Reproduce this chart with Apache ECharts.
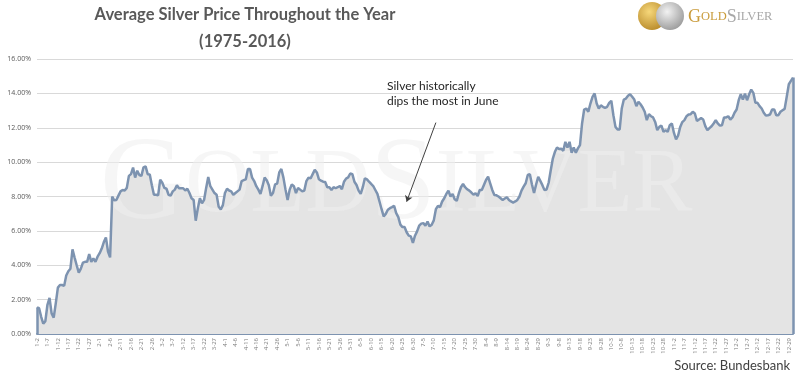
<!DOCTYPE html>
<html>
<head>
<meta charset="utf-8">
<script src="https://cdn.jsdelivr.net/npm/echarts@6/dist/echarts.min.js"></script>
<style>
html,body{margin:0;padding:0;background:#fff;}
#c{width:808px;height:374px;}
</style>
</head>
<body>
<div id="c"></div>
<script>
// ---- data ----
var monthLengths = [31, 29, 31, 30, 31, 30, 31, 31, 30, 31, 30, 31];
var skippedDates = ['1-1', '12-25', '12-26'];
var yTicks = [0, 2, 4, 6, 8, 10, 12, 14, 16];
var annotationLines = ['Silver historically', 'dips the most in June'];
var sourceText = 'Source: Bundesbank';
var titleLines = ['Average Silver Price Throughout the Year', '(1975-2016)'];

// average % change from start of year (percent)
var silverAvg = [
 1.55,1.5,1.0,0.6,0.75,1.7,2.1,1.2,0.95,1.8,
 2.7,2.85,2.85,2.8,3.4,3.65,3.8,4.93,4.45,4.0,
 3.57,3.8,4.15,4.2,4.2,4.65,4.2,4.4,4.2,4.5,
 4.7,4.97,5.35,5.62,4.8,4.46,8.0,7.78,7.8,8.05,
 8.3,8.38,8.35,8.5,9.2,9.3,9.68,9.1,9.5,9.25,
 9.2,9.7,9.75,9.3,9.28,8.66,8.1,8.1,8.07,8.98,
 8.8,8.5,8.45,8.1,8.05,8.3,8.4,8.65,8.48,8.48,
 8.48,8.35,8.45,8.2,7.9,7.8,6.59,7.3,7.9,7.6,
 7.8,8.5,9.14,8.6,8.4,8.2,8.1,7.4,7.25,7.5,
 8.2,8.45,8.35,8.3,8.1,8.2,8.3,8.4,8.9,8.95,
 9.0,9.6,9.6,9.1,8.9,8.6,8.4,8.15,8.6,9.1,
 8.95,8.65,8.05,8.2,8.7,8.75,9.4,9.6,9.1,8.4,
 7.8,8.4,8.7,8.6,8.2,8.5,8.4,8.3,8.35,8.9,
 9.1,9.05,9.3,9.55,9.4,9.0,8.92,8.86,8.84,8.54,
 8.54,8.38,8.54,8.48,8.54,8.61,8.42,8.86,9.04,9.11,
 9.34,9.3,8.86,8.67,8.34,8.15,8.54,9.06,9.0,8.86,
 8.73,8.61,8.38,8.15,7.71,7.26,6.84,6.99,7.23,7.32,
 7.38,7.46,7.03,6.8,6.36,6.22,6.22,5.92,5.72,5.68,
 5.3,5.72,5.97,6.3,6.42,6.45,6.3,6.55,6.26,6.36,
 6.61,7.26,7.46,7.38,7.71,7.9,8.15,8.34,8.0,8.15,
 7.84,7.75,8.19,8.54,8.73,8.54,8.42,8.34,8.23,8.11,
 8.19,8.03,8.38,8.38,8.67,8.96,9.15,8.77,8.38,8.09,
 8.07,8.0,7.9,7.8,7.88,7.96,7.8,7.71,7.65,7.71,
 7.8,8.0,8.34,8.57,8.77,9.25,9.3,8.7,8.2,8.7,
 9.15,8.91,8.66,8.37,8.41,8.8,9.53,10.21,10.6,10.85,
 10.76,10.78,10.66,11.18,10.85,11.18,10.54,10.85,10.54,10.8,
 10.99,12.25,13.06,13.12,12.93,13.41,13.8,13.99,13.41,13.12,
 13.3,13.22,13.16,13.22,13.45,13.57,12.73,12.05,11.9,11.9,
 13.12,13.64,13.7,13.86,13.95,13.8,13.64,13.26,13.51,13.37,
 13.18,12.93,12.44,12.79,12.67,12.6,12.34,11.86,12.05,12.13,
 11.76,11.86,11.76,12.15,12.25,11.7,11.32,11.55,12.05,12.33,
 12.44,12.67,12.77,12.79,12.93,12.83,12.4,12.48,12.56,12.48,
 12.09,11.86,11.98,12.09,12.25,12.44,12.25,12.13,12.15,12.6,
 12.6,12.67,12.48,12.6,12.87,13.06,13.6,13.95,13.64,13.99,
 13.6,13.95,14.22,14.03,13.45,13.45,13.26,13.12,12.87,12.71,
 12.73,12.77,13.06,13.06,12.73,12.73,12.93,13.02,13.1,13.8,
 14.53,14.73,14.92
];

// categories: month-day labels of a leap year, minus skipped dates
var dayLabels = [];
for (var m = 0; m < monthLengths.length; m++) {
  for (var d = 1; d <= monthLengths[m]; d++) {
    var s = (m + 1) + '-' + d;
    if (skippedDates.indexOf(s) < 0) dayLabels.push(s);
  }
}

var lineColor = '#7d93b0';
var lastIdx = silverAvg.length - 1;
var arrowFrom = [dayLabels[191], 12.3];
var arrowTo = [dayLabels[177], 7.7];

var chart = echarts.init(document.getElementById('c'), null, {renderer: 'canvas'});
chart.setOption({
  animation: false,
  backgroundColor: '#ffffff',
  title: {
    text: titleLines.join('\n'),
    left: 245,
    top: 1,
    padding: 0,
    textAlign: 'center',
    textStyle: {
      fontFamily: 'Lato',
      fontWeight: 'bold',
      fontSize: 16.5,
      color: '#595959',
      lineHeight: 27
    }
  },
  grid: {left: 37, right: 15, top: 59, bottom: 40, containLabel: false},
  xAxis: {
    type: 'category',
    data: dayLabels,
    boundaryGap: false,
    axisLine: {show: true, lineStyle: {color: lineColor, width: 2}},
    axisTick: {show: false},
    axisLabel: {
      interval: 4,
      rotate: 90,
      fontSize: 6,
      color: '#7a7a7a',
      fontFamily: 'Open Sans',
      margin: 4
    },
    splitLine: {show: false}
  },
  yAxis: {
    type: 'value',
    min: yTicks[0],
    max: yTicks[yTicks.length - 1],
    interval: yTicks[1] - yTicks[0],
    axisLine: {show: false},
    axisTick: {show: false},
    axisLabel: {
      fontSize: 7,
      color: '#595959',
      fontFamily: 'Open Sans',
      margin: 6,
      formatter: function (v) { return v.toFixed(2) + '%'; }
    },
    splitLine: {show: true, lineStyle: {color: '#d9d9d9', width: 1}}
  },
  graphic: [
    {
      type: 'text', z: 3, left: 100, top: 128, silent: true,
      style: {
        text: '{b|G}{s|OLD}{b|S}{s|ILVER}',
        rich: {
          b: {fontFamily: 'Liberation Serif', fontSize: 118, fill: 'rgba(238,238,238,0.55)'},
          s: {fontFamily: 'Liberation Serif', fontSize: 90, fill: 'rgba(238,238,238,0.55)'}
        }
      }
    },
    {
      type: 'circle', z: 10, shape: {cx: 652, cy: 16, r: 14},
      style: {fill: new echarts.graphic.RadialGradient(0.4, 0.35, 0.7, [
        {offset: 0, color: '#f6d77a'}, {offset: 1, color: '#b88a2a'}])}
    },
    {
      type: 'circle', z: 11, shape: {cx: 670, cy: 16, r: 14},
      style: {fill: new echarts.graphic.RadialGradient(0.4, 0.35, 0.7, [
        {offset: 0, color: '#f2f2f2'}, {offset: 1, color: '#9a9a9a'}])}
    },
    {
      type: 'text', z: 10, left: 688, top: 8,
      style: {
        text: '{gb|G}{gs|OLD}{sb|S}{ss|ILVER}',
        rich: {
          gb: {fontFamily: 'Liberation Serif', fontSize: 18, fill: '#c99b3b'},
          gs: {fontFamily: 'Liberation Serif', fontSize: 12.5, fill: '#c99b3b'},
          sb: {fontFamily: 'Liberation Serif', fontSize: 18, fill: '#a8a8a8'},
          ss: {fontFamily: 'Liberation Serif', fontSize: 12.5, fill: '#a8a8a8'}
        }
      }
    },
    {
      type: 'text', z: 10, left: 387, top: 79,
      style: {
        text: annotationLines.join('\n'),
        fontFamily: 'Lato', fontSize: 12, lineHeight: 15, fill: '#262626'
      }
    },
    {
      type: 'text', z: 10, right: 18, top: 359,
      style: {
        text: sourceText,
        fontFamily: 'Lato', fontSize: 13, fill: '#404040'
      }
    }
  ],
  series: [
    {
      type: 'line',
      data: silverAvg,
      z: 1,
      symbol: 'none',
      silent: true,
      lineStyle: {width: 0, opacity: 0},
      areaStyle: {color: '#e4e4e4', opacity: 1}
    },
    {
      type: 'line',
      data: silverAvg,
      z: 5,
      symbol: 'none',
      lineStyle: {color: lineColor, width: 2.5},
      markLine: {
        silent: true,
        symbol: 'none',
        label: {show: false},
        lineStyle: {type: 'solid'},
        data: [
          [{coord: [dayLabels[0], 0], lineStyle: {color: lineColor, width: 2.5}},
           {coord: [dayLabels[0], silverAvg[0]]}],
          [{coord: [dayLabels[lastIdx], 0], lineStyle: {color: lineColor, width: 2.5}},
           {coord: [dayLabels[lastIdx], silverAvg[lastIdx]]}],
          [{coord: arrowFrom, symbol: 'none', lineStyle: {color: '#404040', width: 1}},
           {coord: arrowTo, symbol: 'arrow', symbolSize: 6}]
        ]
      }
    }
  ]
});
</script>
</body>
</html>
